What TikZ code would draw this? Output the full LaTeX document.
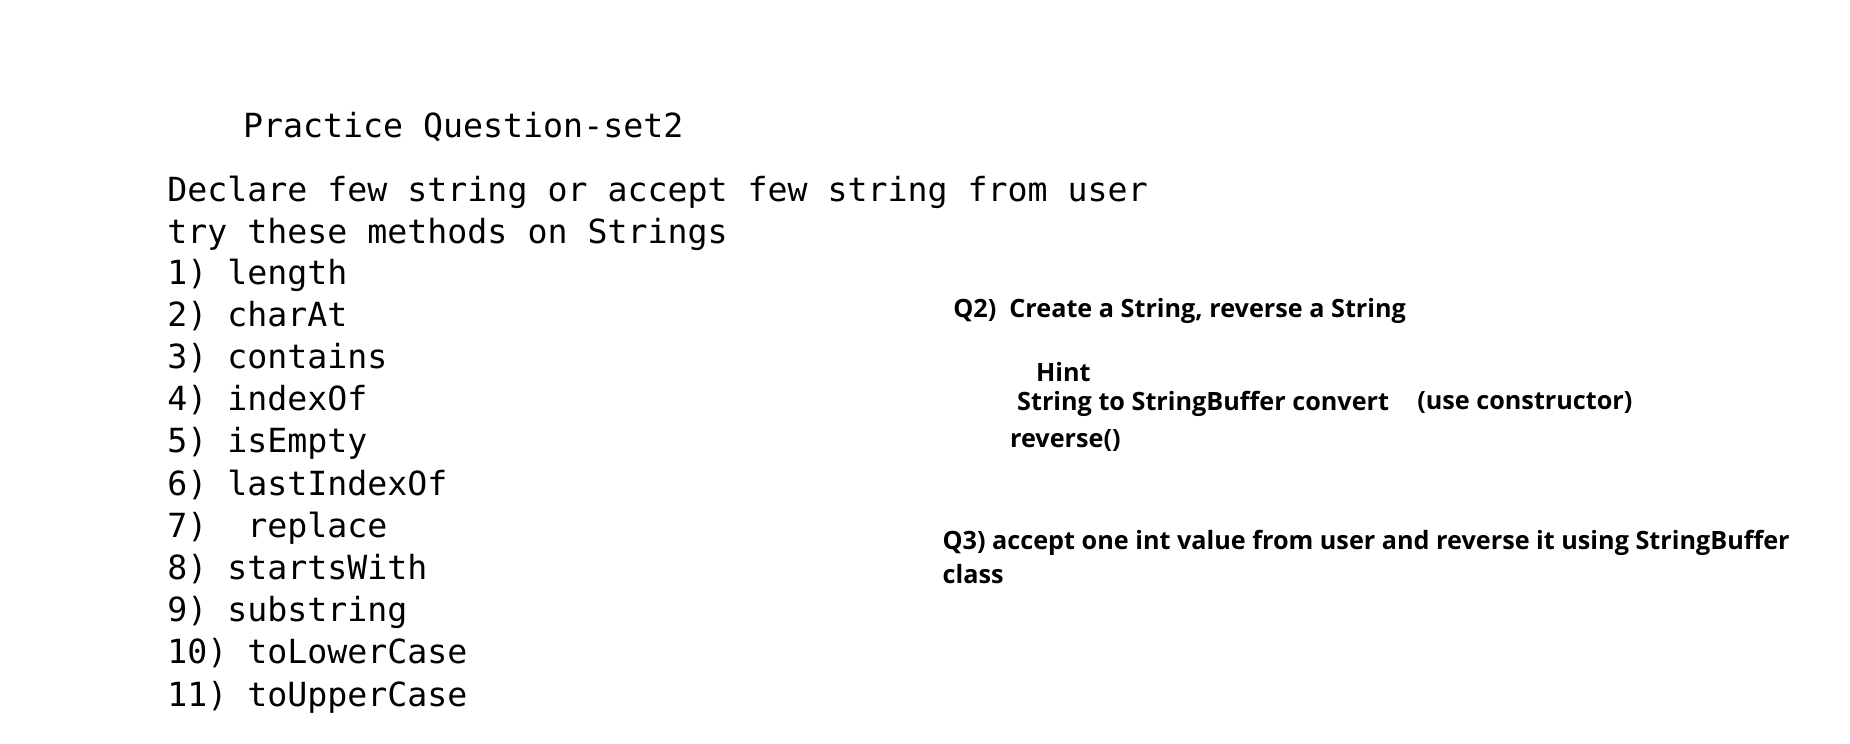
\documentclass[tikz,border=0pt]{standalone}
\usepackage{fontspec}
\setmonofont{DejaVu Sans Mono}
\newfontfamily\notefont{Open Sans}
\usepackage{tikz}
\usetikzlibrary{positioning}

\begin{document}
\begin{tikzpicture}[x=0.5pt,y=-0.5pt]
			\tikzset{
				codeline/.style={anchor=base west,inner sep=0pt,font=\ttfamily\fontsize{14.04}{17}\selectfont},
				noteline/.style={anchor=base west,inner sep=0pt,font=\notefont\bfseries\fontsize{10.65}{13}\selectfont},
			}
			\useasboundingbox[fill=white] (0,0) rectangle (1563,628);
			\node[codeline] (title) at (205,116) {Practice Question-set2};
			\node[codeline] (task) at (141,170) {Declare few string or accept few string from user};
			\node[codeline] (try) at (141,206) {try these methods on Strings};
			\foreach \i/\m in {1/length,2/charAt,3/contains,4/indexOf,5/isEmpty,6/lastIndexOf,7/~replace,8/startsWith,9/substring,10/toLowerCase,11/toUpperCase}
				\node[codeline] (m\i) at (141,{240+(\i-1)*35.65}) {\i) \m};

			\node[noteline] (q2) at (805,268) {Q2)\ \ Create a String, reverse a String};
			\node[noteline] (hint) at (875,322) {Hint};
			\node[noteline] (conv) at (859,347) {String to StringBuffer convert};
			\node[noteline] (ctor) at (1197,346) {(use constructor)};
			\node[noteline] (rev) at (853,378) {reverse()};
			\node[noteline] (q3) at (796,464) {Q3) accept one int value from user and reverse it using StringBuffer};
			\node[noteline] (cls) at (796,493) {class};
		\end{tikzpicture}
\end{document}
